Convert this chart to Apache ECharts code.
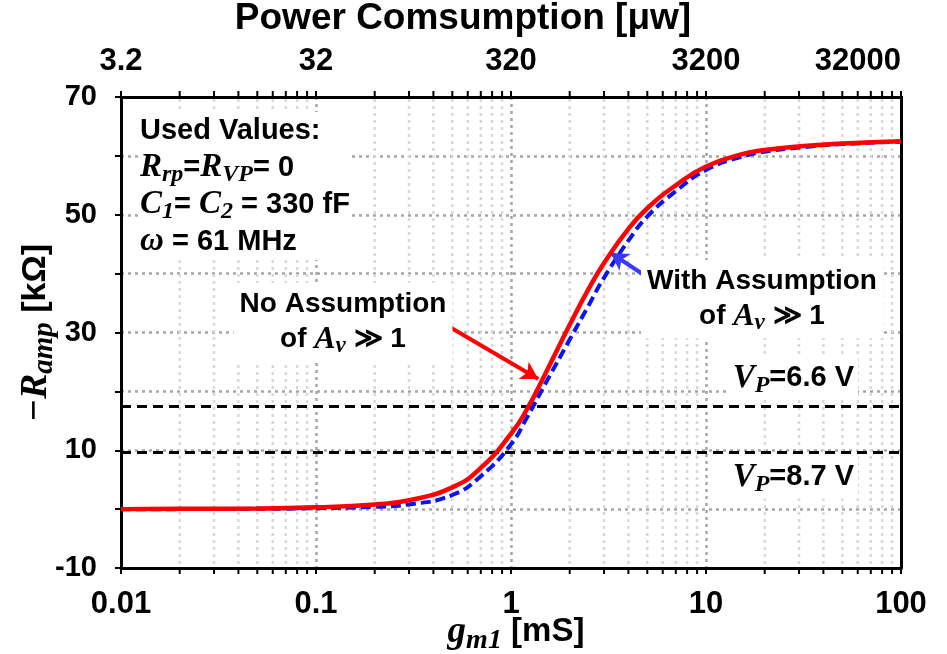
<!DOCTYPE html>
<html>
<head>
<meta charset="UTF-8">
<title>Ramp vs gm1</title>
<script type="text/javascript" src="https://cdn.jsdelivr.net/npm/echarts@6/dist/echarts.min.js"></script>
</head>
<body style="margin:0;background:#fff">
	<div id="show" style="width:947px;height:654px"></div>
	<script type="text/javascript">
		// gm1 [mS] sample points
		var gm = [0.01, 0.02, 0.05, 0.1, 0.2, 0.3, 0.5, 0.7, 1, 1.2, 1.5, 2, 2.5, 3, 4, 5, 7, 10, 15, 20, 30, 50, 100];
		// -Ramp [kOhm], no assumption of Av >> 1 (red)
		var noAssume = [0.0, 0.05, 0.1, 0.3, 0.8, 1.5, 3.7, 7.0, 12.8, 16.8, 23.0, 31.3, 37.4, 41.8, 47.6, 51.1, 55.0, 58.2, 60.2, 61.0, 61.6, 62.1, 62.5];
		// -Ramp [kOhm], with assumption of Av >> 1 (blue dashed)
		var withAssume = [0.0, 0.0, 0.05, 0.15, 0.4, 0.8, 2.4, 5.6, 11.0, 15.4, 21.3, 28.8, 34.6, 39.3, 45.6, 49.7, 54.0, 57.6, 59.8, 60.7, 61.4, 62.0, 62.4];
		// VP levels (black dashed)
		var vpLevels = [17.5, 9.7];
		var vpNames = ['6.6', '8.7'];
		// minor log grid positions
		var minorX = [];
		[0.01, 0.1, 1, 10].forEach(function(d){
			for(var k=2;k<=9;k++){ minorX.push(Math.round(d*k*1000)/1000); }
		});
		var bottomTicks = ['0.01', '0.1', '1', '10', '100'];
		var powerFactor = 320;

		function pairs(xs, ys){
			var out=[];
			for(var i=0;i<xs.length;i++){ out.push([xs[i], ys[i]]); }
			return out;
		}

		var black='#000';
		var sans='"Liberation Sans", Arial, sans-serif';
		var serif='"Liberation Serif", "DejaVu Serif", serif';
		var xLbl={color:black,fontFamily:sans,fontWeight:'bold',fontSize:31};
		var yLbl={color:black,fontFamily:sans,fontWeight:'bold',fontSize:29};

		var mathRich = function(color, size, lh){
			var r = {
				b:{fontFamily:sans,fontWeight:'bold',fontSize:size,color:color},
				m:{fontFamily:serif,fontStyle:'italic',fontWeight:'bold',fontSize:size+4,color:color},
				s:{fontFamily:serif,fontStyle:'italic',fontWeight:'bold',fontSize:size-5,color:color,padding:[Math.round(size*0.5),0,0,0]}
			};
			if(lh){ r.b.lineHeight=lh; r.m.lineHeight=lh; r.s.lineHeight=lh; }
			return r;
		};

		var myCharts=echarts.init(document.getElementById('show'));
		myCharts.setOption({
			backgroundColor:'#fff',
			animation:false,
			grid:{left:121,right:46,top:97,bottom:86,containLabel:false},
			xAxis:[{
				type:'log', logBase:10, min:0.01, max:100, position:'bottom',
				axisLine:{onZero:false,lineStyle:{color:black,width:3}},
				axisTick:{show:true,length:6,lineStyle:{color:black,width:2}},
				axisLabel:Object.assign({margin:21,formatter:function(v){
					var s=bottomTicks.filter(function(t){return Math.abs(parseFloat(t)-v)<v*1e-6;});
					return s.length?s[0]:'';
				}},xLbl),
				splitLine:{show:true,lineStyle:{color:'#a6a6a6',width:2.5,type:[3,4]}}
			},{
				type:'log', logBase:10, min:0.01, max:100, position:'top',
				axisLine:{onZero:false,lineStyle:{color:black,width:3}},
				axisTick:{show:true,length:6,lineStyle:{color:black,width:2}},
				axisLabel:Object.assign({margin:20,alignMaxLabel:'right',formatter:function(v){
					return String(Math.round(v*powerFactor*10)/10);
				}},xLbl),
				splitLine:{show:false}
			}],
			yAxis:[{
				type:'value', min:-10, max:70, interval:10,
				axisLine:{show:true,onZero:false,lineStyle:{color:black,width:3}},
				axisTick:{show:true,length:6,lineStyle:{color:black,width:2}},
				axisLabel:Object.assign({margin:24,formatter:function(v){
					return ((v+10)%20===0)?String(v):'';
				}},yLbl),
				splitLine:{show:true,lineStyle:{color:'#a6a6a6',width:2.5,type:[3,4]}}
			},{
				type:'value', min:-10, max:70, interval:10, position:'right',
				axisLine:{show:true,onZero:false,lineStyle:{color:black,width:3}},
				axisTick:{show:false}, axisLabel:{show:false}, splitLine:{show:false}
			}],
			series:[{
				type:'custom',
				silent:true,
				z:1,
				data:minorX.map(function(x){return [x,0];}),
				encode:{x:0,y:1},
				renderItem:function(params, api){
					var x=api.value(0);
					var p1=api.coord([x,70]);
					var p2=api.coord([x,-10]);
					return {type:'group',children:[{
						type:'line',
						shape:{x1:p1[0],y1:p1[1]+2,x2:p2[0],y2:p2[1]-2},
						style:{stroke:'#d9d9d9',lineWidth:2.5,lineDash:[3,4]}
					},{
						type:'line',
						shape:{x1:p2[0],y1:p2[1],x2:p2[0],y2:p2[1]+6},
						style:{stroke:black,lineWidth:2}
					},{
						type:'line',
						shape:{x1:p1[0],y1:p1[1],x2:p1[0],y2:p1[1]-6},
						style:{stroke:black,lineWidth:2}
					}]};
				}
			},{
				name:'VP',
				type:'line',
				data:[],
				z:3,
				markLine:{
					silent:true,
					symbol:['none','none'],
					label:{show:false},
					lineStyle:{color:black,width:3,type:[10,6]},
					data:vpLevels.map(function(v){return {yAxis:v};})
				}
			},{
				name:'With Assumption',
				type:'line',
				data:pairs(gm, withAssume),
				smooth:0.5,
				showSymbol:false,
				z:4,
				lineStyle:{color:'#0a14f0',width:4,type:[10,5]},
				markLine:{
					silent:true,
					symbol:['none','arrow'],
					symbolSize:[15,17],
					label:{show:false},
					lineStyle:{color:'#3a3af5',width:4,type:'solid'},
					data:[[{coord:[4.75,39.9]},{coord:[3.25,43.5]}]]
				}
			},{
				name:'No Assumption',
				type:'line',
				data:pairs(gm, noAssume),
				smooth:0.5,
				showSymbol:false,
				z:5,
				lineStyle:{color:'#ff0000',width:4.5},
				markLine:{
					silent:true,
					symbol:['none','arrow'],
					symbolSize:[15,17],
					label:{show:false},
					lineStyle:{color:'#ff0000',width:4,type:'solid'},
					data:[[{coord:[0.475,31.1]},{coord:[1.38,22.1]}]]
				}
			}],
			graphic:[{
				type:'text', x:463, y:19, z:10,
				style:{text:'Power Comsumption [\u03bcw]',fill:black,font:'bold 37px '+sans,align:'center',verticalAlign:'middle'}
			},{
				type:'text', x:516, y:632, z:10,
				style:{text:'{m|g}{s|m1}{b| [mS]}',align:'center',verticalAlign:'middle',rich:mathRich(black,33)}
			},{
				type:'text', x:36, y:333, rotation:Math.PI/2, z:10,
				style:{text:'{m|\u2212R}{s|amp}{b| [k\u03a9]}',align:'center',verticalAlign:'middle',rich:mathRich(black,34)}
			},{
				type:'text', x:140, y:112, z:10,
				style:{
					text:'{b|Used Values:}\n{m|R}{s|rp}{b|=}{m|R}{s|VP}{b|= 0}\n{m|C}{s|1}{b|= }{m|C}{s|2}{b| = 330 fF}\n{m|\u03c9}{b| = 61 MHz}',
					backgroundColor:'#fff',
					rich:mathRich(black,29,37)
				}
			},{
				type:'text', x:343, y:322, z:10,
				style:{
					text:'{b|No Assumption}\n{b|of }{m|A}{s|v}{b| \u226b 1}',
					align:'center',verticalAlign:'middle',
					backgroundColor:'#fff',padding:[4,6],
					rich:mathRich('#ff0000',28,35)
				}
			},{
				type:'text', x:762, y:299, z:10,
				style:{
					text:'{b|With Assumption}\n{b|of }{m|A}{s|v}{b| \u226b 1}',
					align:'center',verticalAlign:'middle',
					backgroundColor:'#fff',padding:[4,6],
					rich:mathRich('#3333f0',28,35)
				}
			},{
				type:'text', x:858, y:378, z:10,
				style:{
					text:'{m|V}{s|P}{b|='+vpNames[0]+' V}',
					align:'right',verticalAlign:'middle',
					backgroundColor:'#fff',padding:[2,4],
					rich:mathRich(black,29)
				}
			},{
				type:'text', x:858, y:477, z:10,
				style:{
					text:'{m|V}{s|P}{b|='+vpNames[1]+' V}',
					align:'right',verticalAlign:'middle',
					backgroundColor:'#fff',padding:[2,4],
					rich:mathRich(black,29)
				}
			}]
		});
	</script>
</body>
</html>
